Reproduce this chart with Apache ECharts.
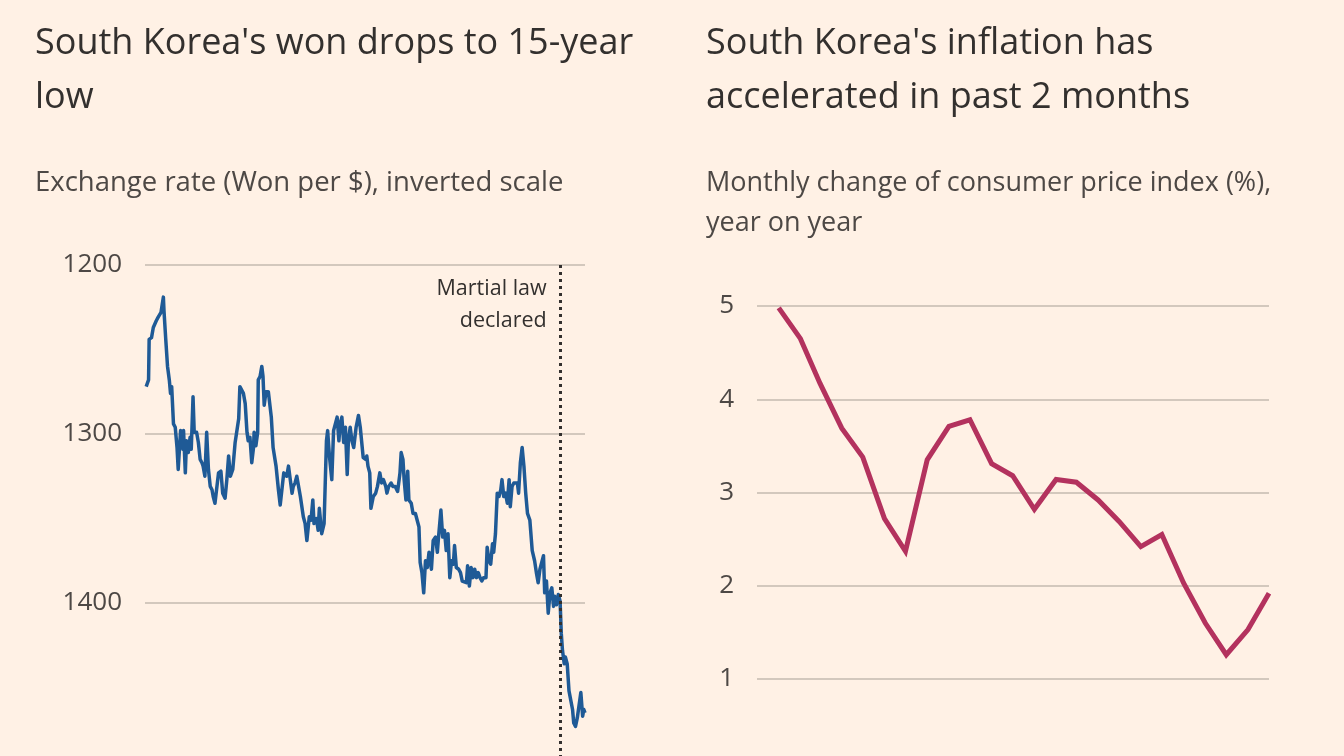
<!DOCTYPE html>
<html><head><meta charset="utf-8">
<script src="https://cdn.jsdelivr.net/npm/echarts@6/dist/echarts.min.js"></script>
<style>html,body{margin:0;padding:0;background:#FFF1E5;}#c{width:1344px;height:756px;}</style>
</head><body><div id="c"></div>
<script>
// ---- Left chart: won per dollar ----
const wonStartDate = '2023-01-02';
const martialLawDate = '2024-12-03';
const wonDayOffsets = [2,6,7,11,14,19,22,27,31,32,35,38,41,43,45,48,51,54,56,60,64,65,68,70,73,76,78,81,83,87,90,93,96,98,101,104,107,110,113,115,118,121,124,128,131,135,138,141,144,148,152,155,158,160,163,
166,169,172,174,177,180,183,184,187,190,191,194,197,199,201,204,208,211,213,216,218,221,225,228,231,234,236,239,242,245,248,250,253,256,259,262,265,267,270,273,276,277,280,283,285,289,292,294,
296,298,302,306,308,311,315,318,321,324,327,329,332,335,338,341,343,346,349,352,356,360,363,368,372,374,376,379,381,385,389,392,396,399,402,406,408,411,415,418,422,426,430,432,435,437,440,443,445,449,452,456,459,462,464,467,470,473,476,479,483,486,490,493,495,499,502,505,508,511,514,517,520,522,525,529,532,535,538,542,544,547,550,553,556,559,562,565,568,571,575,577,580,583,586,588,591,594,597,600,602,605,608,611,614,616,619,622,628,630,633,636,639,642,645,649,653,657,660,663,666,669,672,674,677,680,683,686,689,691,694,697,700,702,704,707,709,712,715,718,721,723,726,729,732,735,738,740,742];
const wonValues = [1272,1268,1244,1243,1237,1233,1231,1228,1219,1227,1244,1260,1268,1276,1272,1294,1296,1308,1321,1298,1309,1298,1323,1304,1311,1302,1309,1278,1299,1299,1305,1315,1317,1319,1325,1299,1321,1331,1333,1337,1341,1342,1323,1322,1335,1338,1327,1313,1325,1321,1305,1305,1291,1272,1272,
1276,1282,1299,1304,1302,1317,1308,1299,1307,1299,1268,1266,1260,1266,1283,1275,1275,1275,1290,1308,1308,1319,1333,1342,1341,1323,1322,1325,1319,1320,1335,1331,1329,1325,1325,1337,1337,1349,1353,1363,1362,1349,1351,1339,1353,1350,1357,1344,
1343,1359,1353,1304,1298,1313,1327,1298,1294,1290,1304,1294,1290,1305,1296,1324,1304,1296,1304,1308,1296,1289,1296,1314,1315,1313,1319,1323,1344,1337,1335,1331,1323,1329,1327,1331,1335,1331,1329,1331,1331,1334,1323,1311,1315,1327,1339,1322,1339,1341,1347,1347,1351,1355,1376,1382,1394,1375,1379,1370,1380,1363,1361,1370,1361,1345,1361,1357,1369,1359,1385,1375,1377,1366,1379,1380,1382,1387,1388,1388,1378,1390,1379,1385,1380,1385,1382,1385,1387,1385,1385,1367,1375,1377,1365,1370,1359,1335,1337,1333,1327,1337,1335,1341,1327,1343,1331,1329,1329,1335,1317,1308,1319,1335,1347,1351,1369,1375,1382,1388,1380,1379,1372,1394,1387,1406,1394,1391,1402,1396,1401,1395,1399,1418,1428,1436,1432,1436,1452,1453,1463,1471,1473,1468,1469,1453,1467,1463,1465];
const wonTicks = [1200, 1300, 1400, 1500];

// ---- Right chart: CPI y/y (%) ----
const cpiMonths = ['2023-01-01','2023-02-01','2023-03-01','2023-04-01','2023-05-01','2023-06-01','2023-07-01','2023-08-01','2023-09-01','2023-10-01','2023-11-01','2023-12-01',
'2024-01-01','2024-02-01','2024-03-01','2024-04-01','2024-05-01','2024-06-01','2024-07-01','2024-08-01','2024-09-01','2024-10-01','2024-11-01','2024-12-01'];
const cpiValues = [4.98,4.65,4.17,3.69,3.38,2.72,2.37,3.35,3.71,3.78,3.31,3.18,2.82,3.14,3.11,2.92,2.69,2.42,2.55,2.03,1.60,1.26,1.53,1.92];
const cpiTicks = [1, 2, 3, 4, 5];

const DAY = 86400000;
const t0 = Date.parse(wonStartDate + 'T00:00:00Z');
const wonData = wonDayOffsets.map((d, i) => [t0 + d * DAY, wonValues[i]]);
const cpiData = cpiMonths.map((m, i) => [Date.parse(m + 'T00:00:00Z'), cpiValues[i]]);

const FONT = '"Open Sans", "Noto Sans", sans-serif';
const grid = '#d3c8bd';
const chart = echarts.init(document.getElementById('c'), null, {renderer: 'canvas'});
const option = {
  backgroundColor: '#FFF1E5',
  animation: false,
  textStyle: {fontFamily: FONT},
  title: [
    {text: "South Korea's won drops to 15-year\nlow", left: 30, top: 12, textStyle: {fontFamily: FONT, fontSize: 36, fontWeight: 'normal', color: '#33302E', lineHeight: 54}},
    {text: 'Exchange rate (Won per $), inverted scale', left: 30, top: 158, textStyle: {fontFamily: FONT, fontSize: 27.5, fontWeight: 'normal', color: '#4d4845', lineHeight: 40}},
    {text: "South Korea's inflation has\naccelerated in past 2 months", left: 701, top: 12, textStyle: {fontFamily: FONT, fontSize: 36, fontWeight: 'normal', color: '#33302E', lineHeight: 54}},
    {text: 'Monthly change of consumer price index (%),\nyear on year', left: 701, top: 158, textStyle: {fontFamily: FONT, fontSize: 27, fontWeight: 'normal', color: '#4d4845', lineHeight: 40}}
  ],
  grid: [
    {left: 145, top: 265, width: 440, height: 507, containLabel: false, outerBoundsMode: 'none'},
    {left: 757, top: 306, width: 512, height: 373, containLabel: false, outerBoundsMode: 'none'}
  ],
  xAxis: [
    {type: 'time', gridIndex: 0, min: t0, max: 'dataMax', axisLine: {show: false}, axisTick: {show: false}, axisLabel: {show: false}, splitLine: {show: false}},
    {type: 'time', gridIndex: 1, min: Date.parse('2022-12-01T00:00:00Z'), max: 'dataMax', axisLine: {show: false}, axisTick: {show: false}, axisLabel: {show: false}, splitLine: {show: false}}
  ],
  yAxis: [
    {type: 'value', gridIndex: 0, inverse: true, min: wonTicks[0], max: wonTicks[wonTicks.length - 1], interval: 100,
     axisLine: {show: false}, axisTick: {show: false},
     axisLabel: {margin: 23, fontSize: 26, color: '#4d4845', fontFamily: FONT, formatter: v => String(v), showMaxLabel: false},
     splitLine: {lineStyle: {color: grid, width: 2}}},
    {type: 'value', gridIndex: 1, min: cpiTicks[0], max: cpiTicks[cpiTicks.length - 1], interval: 1,
     axisLine: {show: false}, axisTick: {show: false},
     axisLabel: {margin: 23, fontSize: 26, color: '#4d4845', fontFamily: FONT, formatter: v => String(v)},
     splitLine: {lineStyle: {color: grid, width: 2}}}
  ],
  series: [
    {type: 'line', xAxisIndex: 0, yAxisIndex: 0, data: wonData, showSymbol: false, symbol: 'none',
     lineStyle: {color: '#1F5A96', width: 3.5, join: 'round'}, z: 3,
     markLine: {silent: true, symbol: 'none', label: {show: false},
       lineStyle: {color: '#33302E', width: 3, type: [3, 4], cap: 'butt'},
       data: [{xAxis: Date.parse(martialLawDate + 'T00:00:00Z')}]}},
    {type: 'line', xAxisIndex: 1, yAxisIndex: 1, data: cpiData, showSymbol: false, symbol: 'none',
     lineStyle: {color: '#B3325E', width: 5, join: 'miter'}}
  ]
};
chart.setOption(option);
const mx = chart.convertToPixel({xAxisIndex: 0}, Date.parse(martialLawDate + 'T00:00:00Z'));
chart.setOption({graphic: [{type: 'text', x: mx - 14, y: 305,
  style: {text: 'Martial law\ndeclared', align: 'right', verticalAlign: 'middle', lineHeight: 32, fontSize: 21.5, fontFamily: FONT, fill: '#33302E'}}]});
</script></body></html>
